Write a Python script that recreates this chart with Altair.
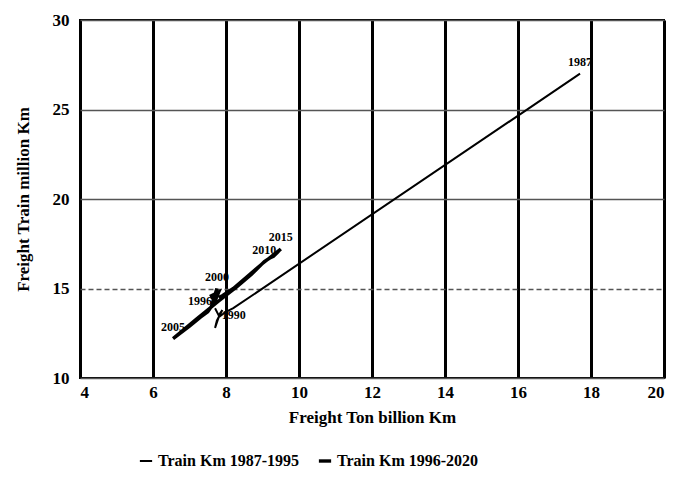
import altair as alt
import pandas as pd

# Series 1: Train Km 1987-1995
years_1 = [1987, 1988, 1989, 1990, 1991, 1992, 1993, 1994, 1995]
ton_1 = [17.7, 8.2, 8.0, 7.8, 7.7, 7.75, 7.9, 7.8, 7.7]
train_1 = [27.0, 13.9, 13.7, 13.4, 12.8, 13.2, 13.8, 13.5, 13.9]

# Series 2: Train Km 1996-2020
years_2 = [1996, 1997, 1998, 1999, 2000, 2001, 2002, 2003, 2004, 2005,
           2006, 2007, 2008, 2009, 2010, 2011, 2012, 2013, 2014, 2015,
           2016, 2017, 2018, 2019, 2020]
ton_2 = [7.7, 7.6, 7.8, 7.7, 7.75, 7.6, 7.5, 7.3, 7.0, 6.55,
         7.2, 7.8, 8.3, 8.7, 9.05, 9.2, 9.3, 9.4, 9.45, 9.5,
         9.0, 8.6, 8.2, 7.9, 7.8]
train_2 = [14.2, 14.6, 14.8, 14.3, 15.0, 14.0, 13.7, 13.4, 12.9, 12.2,
           13.3, 14.3, 15.1, 15.8, 16.5, 16.7, 16.8, 17.0, 17.1, 17.2,
           16.4, 15.7, 15.0, 14.6, 14.5]

# year labels: above the point, to its left, or to its right
labels_above = [1987, 2000, 2005, 2010, 2015]
labels_left = [1996]
labels_right = [1990]

series_names = ["Train Km 1987-1995", "Train Km 1996-2020"]

rows = []
for y, a, b in zip(years_1, ton_1, train_1):
    rows.append({"year": y, "ton": a, "train": b, "series": series_names[0]})
for y, a, b in zip(years_2, ton_2, train_2):
    rows.append({"year": y, "ton": a, "train": b, "series": series_names[1]})
df = pd.DataFrame(rows)
df["label"] = df["year"].astype(str)

FONT = "Liberation Serif"

x_enc = alt.X("ton:Q", scale=alt.Scale(domain=[4, 20], nice=False, zero=False),
              axis=alt.Axis(values=[4, 6, 8, 10, 12, 14, 16, 18, 20],
                            title="Freight Ton billion Km", grid=True,
                            gridColor="black", gridWidth=3, tickSize=0,
                            labelPadding=6, titlePadding=9, domain=False))
y_enc = alt.Y("train:Q", scale=alt.Scale(domain=[10, 30], nice=False, zero=False),
              axis=alt.Axis(values=[10, 15, 20, 25, 30],
                            title="Freight Train million Km", grid=True,
                            gridColor="#555555", gridWidth=1.5,
                            gridDash={"condition": {"test": "datum.value === 15", "value": [5, 3]}, "value": [1, 0]},
                            tickSize=0, labelPadding=11, titlePadding=20, domain=False))

lines = alt.Chart(df).mark_line(color="black").encode(
    x=x_enc, y=y_enc,
    order="year:O",
    detail="series:N",
    strokeWidth=alt.StrokeWidth("series:N",
                                scale=alt.Scale(domain=series_names, range=[2.0, 3.4]),
                                legend=alt.Legend(title=None, orient="none", direction="horizontal",
                                                  legendX=58, legendY=433, symbolType="stroke",
                                                  symbolStrokeColor="black", symbolSize=150,
                                                  labelFont=FONT, labelFontSize=16,
                                                  labelFontWeight="bold", columnPadding=12,
                                                  symbolOffset=0)),
)


def year_labels(years, **kw):
    return alt.Chart(df).transform_filter(
        alt.FieldOneOfPredicate(field="year", oneOf=years)
    ).mark_text(font=FONT, fontSize=12, fontWeight="bold", color="black", **kw).encode(
        x="ton:Q", y="train:Q", text="label:N")


labels = alt.layer(
    year_labels(labels_above, dy=-12),
    year_labels(labels_left, align="right", dx=-3, dy=-2),
    year_labels(labels_right, align="left", dx=3, dy=-2),
)

chart = alt.layer(lines, labels).properties(
    width=584, height=358,
    autosize=alt.AutoSizeParams(type="none"),
    padding={"left": 72, "top": 12, "right": 8, "bottom": 98},
).configure_view(stroke="black", strokeWidth=2).configure_axis(
    labelFont=FONT, labelFontSize=17, labelFontWeight="bold", labelColor="black",
    titleFont=FONT, titleFontSize=17, titleFontWeight="bold", titleColor="black",
)

chart.save("out.html", embed_options={"renderer": "svg", "actions": False})
